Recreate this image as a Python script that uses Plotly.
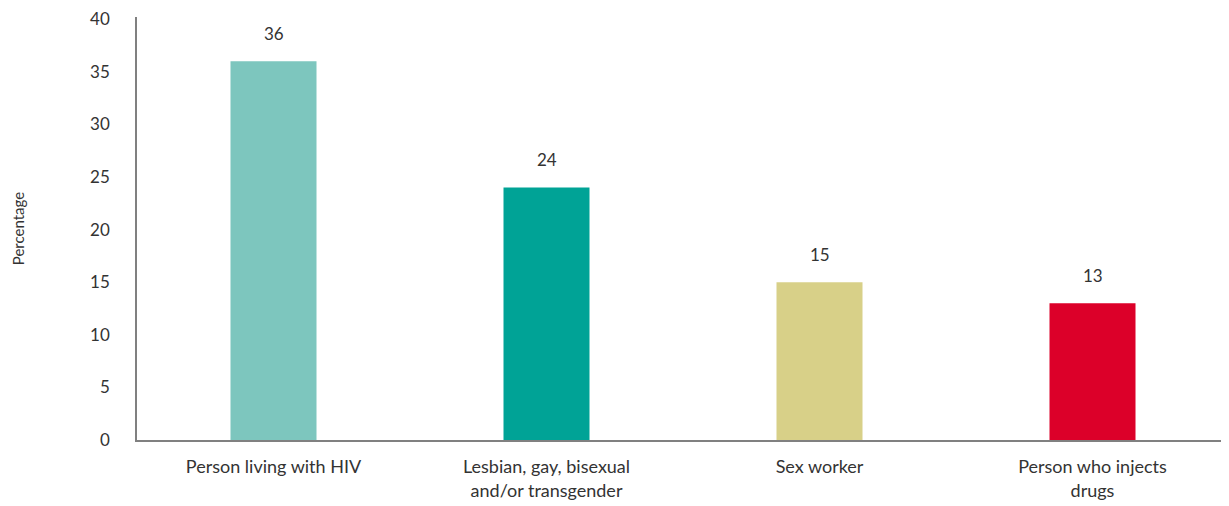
import plotly.graph_objects as go

categories = ["Person living with HIV", "Lesbian, gay, bisexual<br>and/or transgender", "Sex worker", "Person who injects<br>drugs"]
values = [36, 24, 15, 13]
colors = ["#7DC6BE", "#00A396", "#D8D088", "#DC0029"]
y_ticks = [0, 5, 10, 15, 20, 25, 30, 35, 40]

fig = go.Figure()
fig.add_trace(go.Bar(x=categories, y=values, marker=dict(color=colors, line=dict(width=0)), width=0.315))
for c, v in zip(categories, values):
    fig.add_annotation(x=c, y=v, text=str(v), showarrow=False, yanchor="bottom", yshift=15,
                       font=dict(size=17, color="#333333"))

fig.update_layout(
    width=1221, height=498,
    margin=dict(l=129, r=0, t=9, b=66, autoexpand=False),
    plot_bgcolor="white", paper_bgcolor="white",
    font=dict(family="Lato, sans-serif", size=18, color="#333333"),
    showlegend=False,
)
fig.update_xaxes(showline=True, linecolor="#808080", linewidth=1.5, showgrid=False, ticks="",
                 tickfont=dict(size=18), ticklabelstandoff=10)
fig.update_yaxes(range=[0, 40.2], tickvals=y_ticks, showgrid=False, zeroline=False,
                 showline=True, linecolor="#808080", linewidth=1.5, ticks="",
                 ticklabelstandoff=22, tickfont=dict(size=17), ticklabeloverflow="allow",
                 title=dict(text="Percentage", font=dict(size=15), standoff=62))
fig.write_html("out.html")
